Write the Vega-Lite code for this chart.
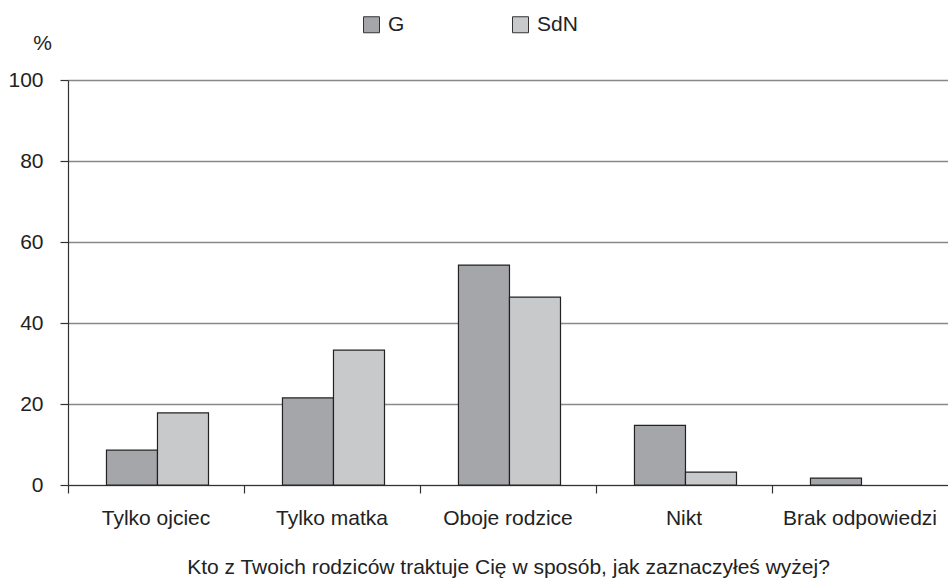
{
  "$schema": "https://vega.github.io/schema/vega-lite/v6.json",
  "width": 880,
  "height": 405,
  "autosize": {"type": "none"},
  "padding": {"left": 68, "top": 80, "right": 0, "bottom": 96},
  "background": "white",
  "config": {
    "font": "Liberation Sans",
    "view": {"stroke": null},
    "axis": {"labelFont": "Liberation Sans", "titleFont": "Liberation Sans", "labelColor": "#222", "titleColor": "#222", "titleFontWeight": "normal"},
    "legend": {"labelFont": "Liberation Sans"}
  },
  "data": {
    "values": [
      {"kat": "Tylko ojciec", "grupa": "G", "v": 8.6},
      {"kat": "Tylko ojciec", "grupa": "SdN", "v": 17.8},
      {"kat": "Tylko matka", "grupa": "G", "v": 21.5},
      {"kat": "Tylko matka", "grupa": "SdN", "v": 33.3},
      {"kat": "Oboje rodzice", "grupa": "G", "v": 54.3},
      {"kat": "Oboje rodzice", "grupa": "SdN", "v": 46.4},
      {"kat": "Nikt", "grupa": "G", "v": 14.7},
      {"kat": "Nikt", "grupa": "SdN", "v": 3.2},
      {"kat": "Brak odpowiedzi", "grupa": "G", "v": 1.7}
    ]
  },
  "mark": {"type": "bar", "stroke": "#222", "strokeWidth": 1.2},
  "encoding": {
    "x": {
      "field": "kat",
      "type": "nominal",
      "sort": ["Tylko ojciec", "Tylko matka", "Oboje rodzice", "Nikt", "Brak odpowiedzi"],
      "scale": {"paddingInner": 0, "paddingOuter": 0},
      "axis": {
        "title": "Kto z Twoich rodziców traktuje Cię w sposób, jak zaznaczyłeś wyżej?",
        "titleFontSize": 21,
        "titlePadding": 28,
        "labelAngle": 0,
        "labelFontSize": 21,
        "labelPadding": 14,
        "bandPosition": 0,
        "tickSize": 8,
        "tickColor": "#333",
        "domainColor": "#333",
        "tickWidth": 1.2,
        "domainWidth": 1.2,
        "grid": false
      }
    },
    "xOffset": {
      "field": "grupa",
      "type": "nominal",
      "scale": {"domain": ["G", "SdN"], "paddingInner": 0, "paddingOuter": 0.725, "align": 0.52}
    },
    "y": {
      "field": "v",
      "type": "quantitative",
      "scale": {"domain": [0, 100], "nice": false},
      "axis": {
        "values": [0, 20, 40, 60, 80, 100],
        "title": "%",
        "titleAngle": 0,
        "titleFontSize": 21,
        "titleX": -26,
        "titleY": -37,
        "titleAlign": "center",
        "titleBaseline": "middle",
        "labelFontSize": 21,
        "labelPadding": 17,
        "tickSize": 8,
        "tickColor": "#333",
        "domainColor": "#333",
        "tickWidth": 1.2,
        "domainWidth": 1.2,
        "grid": true,
        "gridColor": "#888",
        "gridWidth": 1.4
      }
    },
    "color": {
      "field": "grupa",
      "type": "nominal",
      "scale": {"domain": ["G", "SdN"], "range": ["#a5a6aa", "#c8c9cb"]},
      "legend": {
        "title": null,
        "orient": "none",
        "direction": "horizontal",
        "legendX": 293,
        "legendY": -66,
        "symbolType": "square",
        "symbolSize": 256,
        "symbolStrokeColor": "#333",
        "symbolStrokeWidth": 1,
        "labelFontSize": 21,
        "labelColor": "#222",
        "labelOffset": 6,
        "columnPadding": 105
      }
    }
  }
}
